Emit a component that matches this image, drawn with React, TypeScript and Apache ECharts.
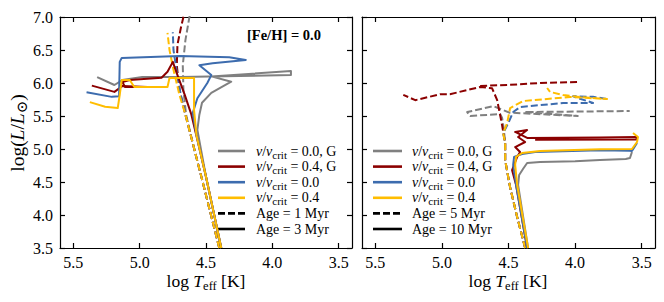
import React, { useEffect, useRef } from 'react';
import * as echarts from 'echarts';

const SERIF = "'Liberation Serif', 'DejaVu Serif', serif";
const GRAY = '#808080';
const RED = '#8b0000';
const BLUE = '#3d6cae';
const GOLD = '#ffbd00';

const X_MIN = 3.4;
const X_MAX = 5.6;
const Y_MIN = 3.5;
const Y_MAX = 7.0;
const Y_STEP = 0.5;
const xTickValues = [3.5, 4.0, 4.5, 5.0, 5.5];

// ---- Left panel, age = 1 Myr (dashed) : [log Teff, log L]
const left1MyrGray = [[4.40, 3.5], [4.535, 4.58], [4.60, 5.09], [4.65, 5.52], [4.67, 5.89], [4.675, 6.27], [4.655, 6.65], [4.625, 7.0], [4.61, 7.15]];
const left1MyrRed = [[4.40, 3.5], [4.535, 4.58], [4.60, 5.09], [4.655, 5.52], [4.70, 5.89], [4.72, 6.27], [4.715, 6.58], [4.69, 6.83], [4.67, 7.0], [4.655, 7.1]];
const left1MyrBlue = [[4.40, 3.5], [4.535, 4.58], [4.60, 5.09], [4.655, 5.52], [4.69, 5.82], [4.72, 6.17], [4.745, 6.5], [4.75, 6.77]];
const left1MyrGold = [[4.40, 3.5], [4.535, 4.58], [4.60, 5.09], [4.655, 5.52], [4.70, 5.82], [4.745, 6.2], [4.775, 6.5], [4.79, 6.76]];

// ---- Left panel, age = 3 Myr (solid)
const left3MyrGray = [[4.385, 3.5], [4.50, 4.58], [4.565, 5.29], [4.55, 5.52], [4.53, 5.70], [4.46, 5.85], [4.31, 6.02], [4.46, 6.10], [3.86, 6.18], [3.86, 6.12], [4.25, 6.105], [4.70, 6.09], [4.98, 6.09], [5.13, 6.045], [5.19, 5.97], [5.32, 6.09]];
const left3MyrRed = [[4.385, 3.5], [4.50, 4.58], [4.565, 5.14], [4.61, 5.52], [4.66, 5.82], [4.715, 6.12], [4.75, 6.32], [4.79, 6.17], [4.835, 6.08], [5.075, 6.045], [5.13, 6.015], [5.11, 5.94], [4.94, 5.94], [5.13, 5.955], [5.19, 5.865], [5.36, 5.96]];
const left3MyrBlue = [[4.385, 3.5], [4.50, 4.58], [4.572, 5.21], [4.60, 5.545], [4.565, 5.77], [4.49, 6.0], [4.46, 6.12], [4.55, 6.27], [4.45, 6.30], [4.20, 6.35], [4.325, 6.39], [4.70, 6.41], [5.135, 6.38], [5.15, 6.32], [5.155, 5.80], [5.21, 5.79], [5.40, 5.86]];
const left3MyrGold = [[4.385, 3.5], [4.50, 4.58], [4.572, 5.21], [4.59, 5.59], [4.59, 6.075], [4.775, 6.075], [4.79, 5.94], [5.04, 5.94], [5.075, 6.045], [5.135, 6.045], [5.15, 5.82], [5.165, 5.62], [5.26, 5.64], [5.375, 5.71]];

// ---- Right panel, age = 5 Myr (dashed)
const right5MyrGray = [[4.375, 3.5], [4.435, 3.97], [4.488, 4.42], [4.525, 4.83], [4.525, 5.09], [4.535, 5.30], [4.548, 5.47], [4.563, 5.53], [4.788, 5.50], [4.81, 5.56], [4.615, 5.65], [4.49, 5.55], [3.98, 5.50], [4.38, 5.56], [3.59, 5.575]];
const right5MyrRed = [[4.375, 3.5], [4.435, 3.97], [4.488, 4.42], [4.525, 4.83], [4.525, 5.09], [4.548, 5.36], [4.585, 5.74], [4.623, 5.92], [4.713, 5.94], [4.94, 5.83], [5.013, 5.83], [5.2, 5.74], [5.29, 5.82]];
const right5MyrRedUpper = [[4.713, 5.955], [4.51, 5.97], [4.26, 6.0], [3.978, 6.015]];
const right5MyrBlue = [[4.375, 3.5], [4.435, 3.97], [4.488, 4.42], [4.525, 4.83], [4.525, 5.09], [4.54, 5.24], [4.50, 5.40], [4.465, 5.56], [4.413, 5.636], [4.09, 5.697], [3.865, 5.697], [3.975, 5.77], [4.015, 5.80], [3.865, 5.79], [3.76, 5.758]];
const right5MyrGold = [[4.375, 3.5], [4.435, 3.97], [4.488, 4.42], [4.525, 4.83], [4.525, 5.09], [4.54, 5.24], [4.51, 5.394], [4.488, 5.62], [4.39, 5.727], [4.038, 5.788], [3.76, 5.758], [3.963, 5.788], [4.09, 5.818], [4.188, 5.864], [4.21, 5.924]];

// ---- Right panel, age = 10 Myr (solid)
const right10MyrGray = [[4.353, 3.5], [4.428, 4.455], [4.42, 4.606], [4.39, 4.70], [4.36, 4.788], [4.263, 4.803], [4.0, 4.815], [3.813, 4.833], [3.62, 4.85], [3.588, 4.864], [3.573, 4.955]];
const right10MyrRed = [[4.36, 3.5], [4.443, 4.455], [4.473, 4.68], [4.435, 4.88], [4.413, 4.955], [4.45, 5.03], [4.375, 5.106], [4.428, 5.182], [4.36, 5.288], [4.45, 5.258], [4.36, 5.167], [3.813, 5.175], [3.535, 5.182], [3.54, 5.145], [4.30, 5.14]];
const right10MyrBlue = [[4.36, 3.5], [4.443, 4.455], [4.465, 4.758], [4.458, 4.88], [4.398, 4.924], [4.30, 4.955], [3.813, 4.98], [3.59, 4.975], [3.573, 4.97], [3.535, 5.09]];
const right10MyrGold = [[4.353, 3.5], [4.435, 4.455], [4.45, 4.758], [4.443, 4.88], [4.398, 4.94], [4.263, 4.97], [3.813, 4.995], [3.573, 5.0], [3.535, 5.106], [3.528, 5.182], [3.565, 5.242]];

// ---- Legends
const legendColors = [GRAY, RED, BLUE, GOLD, '#000', '#000'];
const legendDashed = [false, false, false, false, true, false];
const legendRatios = ['0.0, G', '0.4, G', '0.0', '0.4'];
const leftAges = ['Age = 1 Myr', 'Age = 3 Myr'];
const rightAges = ['Age = 5 Myr', 'Age = 10 Myr'];

const DASH = [7, 3];

const rich = {
  n: { fontFamily: SERIF, fontSize: 14, lineHeight: 18, color: '#000' },
  i: { fontFamily: SERIF, fontSize: 14, fontStyle: 'italic', lineHeight: 18, color: '#000' },
  s: { fontFamily: SERIF, fontSize: 11, lineHeight: 10, verticalAlign: 'bottom', color: '#000' },
  b: { fontFamily: SERIF, fontSize: 14.5, fontWeight: 'bold', lineHeight: 18, color: '#000' },
  N: { fontFamily: SERIF, fontSize: 17.5, lineHeight: 22, color: '#000' },
  I: { fontFamily: SERIF, fontSize: 17.5, fontStyle: 'italic', lineHeight: 22, color: '#000' },
  S: { fontFamily: SERIF, fontSize: 12.5, lineHeight: 12, verticalAlign: 'bottom', color: '#000' },
  Y: { fontFamily: SERIF, fontSize: 19.5, lineHeight: 24, color: '#000' },
  YI: { fontFamily: SERIF, fontSize: 19.5, fontStyle: 'italic', lineHeight: 24, color: '#000' },
  YS: { fontFamily: SERIF, fontSize: 15, lineHeight: 14, verticalAlign: 'bottom', color: '#000' },
  t: { fontFamily: SERIF, fontSize: 16, color: '#000' },
};

function makeX(gridIndex: number, position: string, showLabels: boolean) {
  return {
    type: 'value', gridIndex, position, min: X_MIN, max: X_MAX, inverse: true,
    axisLine: { show: true, onZero: false, lineStyle: { color: '#000', width: 1.2 } },
    axisTick: { show: true, inside: true, length: 5, customValues: xTickValues, lineStyle: { color: '#000', width: 1.2 } },
    axisLabel: {
      show: showLabels, customValues: xTickValues, rich, fontFamily: SERIF, fontSize: 16, color: '#000',
      formatter: (v: number) => `{t|${v.toFixed(1)}}`, margin: 6,
    },
    splitLine: { show: false },
  };
}

function makeY(gridIndex: number, position: string, showLabels: boolean) {
  return {
    type: 'value', gridIndex, position, min: Y_MIN, max: Y_MAX, interval: Y_STEP,
    axisLine: { show: true, onZero: false, lineStyle: { color: '#000', width: 1.2 } },
    axisTick: { show: true, inside: true, length: 5, lineStyle: { color: '#000', width: 1.2 } },
    axisLabel: { show: showLabels, rich, fontFamily: SERIF, fontSize: 16, color: '#000', formatter: (v: number) => `{t|${v.toFixed(1)}}`, margin: 7 },
    splitLine: { show: false },
  };
}

function track(data: number[][], color: string, dashed: boolean, panel: number) {
  return {
    type: 'line', data, xAxisIndex: panel * 2, yAxisIndex: panel * 2,
    showSymbol: false, symbol: 'none', silent: true, clip: true,
    lineStyle: { color, width: 2, type: dashed ? DASH : 'solid', cap: 'butt', join: 'round' },
  };
}

function legendGraphics(x1: number, x2: number, tx: number, ages: string[]) {
  const out: any[] = [];
  const labels = [
    ...legendRatios.map((r) => `{i|v}{n|/}{i|v}{s|crit}{n| = ${r}}`),
    ...ages.map((a) => `{n|${a}}`),
  ];
  labels.forEach((lab, k) => {
    const y = 151 + k * 15.6;
    out.push({
      type: 'line', silent: true,
      shape: { x1, y1: y, x2, y2: y },
      style: { stroke: legendColors[k], lineWidth: 2.6, lineDash: legendDashed[k] ? DASH : null },
    });
    out.push({
      type: 'text', silent: true, x: tx, y,
      style: { text: lab, rich, textAlign: 'left', textVerticalAlign: 'middle', align: 'left', verticalAlign: 'middle' },
    });
  });
  return out;
}

export default function App() {
  const ref = useRef<HTMLDivElement>(null);
  useEffect(() => {
    if (!ref.current) return;
    const chart = echarts.init(ref.current, null, { renderer: 'svg' });
    const option = {
      animation: false,
      backgroundColor: '#fff',
      textStyle: { fontFamily: SERIF, color: '#000' },
      grid: [
        { left: 60, top: 17, width: 292, height: 231 },
        { left: 362, top: 17, width: 293, height: 231 },
      ],
      xAxis: [makeX(0, 'bottom', true), makeX(0, 'top', false), makeX(1, 'bottom', true), makeX(1, 'top', false)],
      yAxis: [makeY(0, 'left', true), makeY(0, 'right', false), makeY(1, 'left', false), makeY(1, 'right', false)],
      series: [
        track(left1MyrGray, GRAY, true, 0),
        track(left1MyrRed, RED, true, 0),
        track(left1MyrBlue, BLUE, true, 0),
        track(left1MyrGold, GOLD, true, 0),
        track(left3MyrGray, GRAY, false, 0),
        track(left3MyrRed, RED, false, 0),
        track(left3MyrBlue, BLUE, false, 0),
        track(left3MyrGold, GOLD, false, 0),
        track(right5MyrGray, GRAY, true, 1),
        track(right5MyrRed, RED, true, 1),
        track(right5MyrRedUpper, RED, true, 1),
        track(right5MyrBlue, BLUE, true, 1),
        track(right5MyrGold, GOLD, true, 1),
        track(right10MyrGray, GRAY, false, 1),
        track(right10MyrRed, RED, false, 1),
        track(right10MyrBlue, BLUE, false, 1),
        track(right10MyrGold, GOLD, false, 1),
      ],
      graphic: [
        {
          type: 'text', silent: true, x: 247, y: 35,
          style: { text: '{b|[Fe/H] = 0.0}', rich, textAlign: 'left', align: 'left', textVerticalAlign: 'middle', verticalAlign: 'middle' },
        },
        {
          type: 'text', silent: true, x: 17, y: 133, rotation: Math.PI / 2,
          style: { text: '{Y|log(}{YI|L}{Y|/}{YI|L}{YS|⊙}{Y|)}', rich, textAlign: 'center', align: 'center', textVerticalAlign: 'middle', verticalAlign: 'middle' },
        },
        {
          type: 'text', silent: true, x: 206, y: 281,
          style: { text: '{N|log }{I|T}{S|eff}{N| [K]}', rich, textAlign: 'center', align: 'center', textVerticalAlign: 'middle', verticalAlign: 'middle' },
        },
        {
          type: 'text', silent: true, x: 508, y: 281,
          style: { text: '{N|log }{I|T}{S|eff}{N| [K]}', rich, textAlign: 'center', align: 'center', textVerticalAlign: 'middle', verticalAlign: 'middle' },
        },
        ...legendGraphics(218, 245, 256, leftAges),
        ...legendGraphics(373, 402, 412, rightAges),
      ],
    };
    chart.setOption(option as any);
    return () => chart.dispose();
  }, []);
  return <div ref={ref} style={{ position: 'fixed', left: 0, top: 0, width: 664, height: 302 }} />;
}
